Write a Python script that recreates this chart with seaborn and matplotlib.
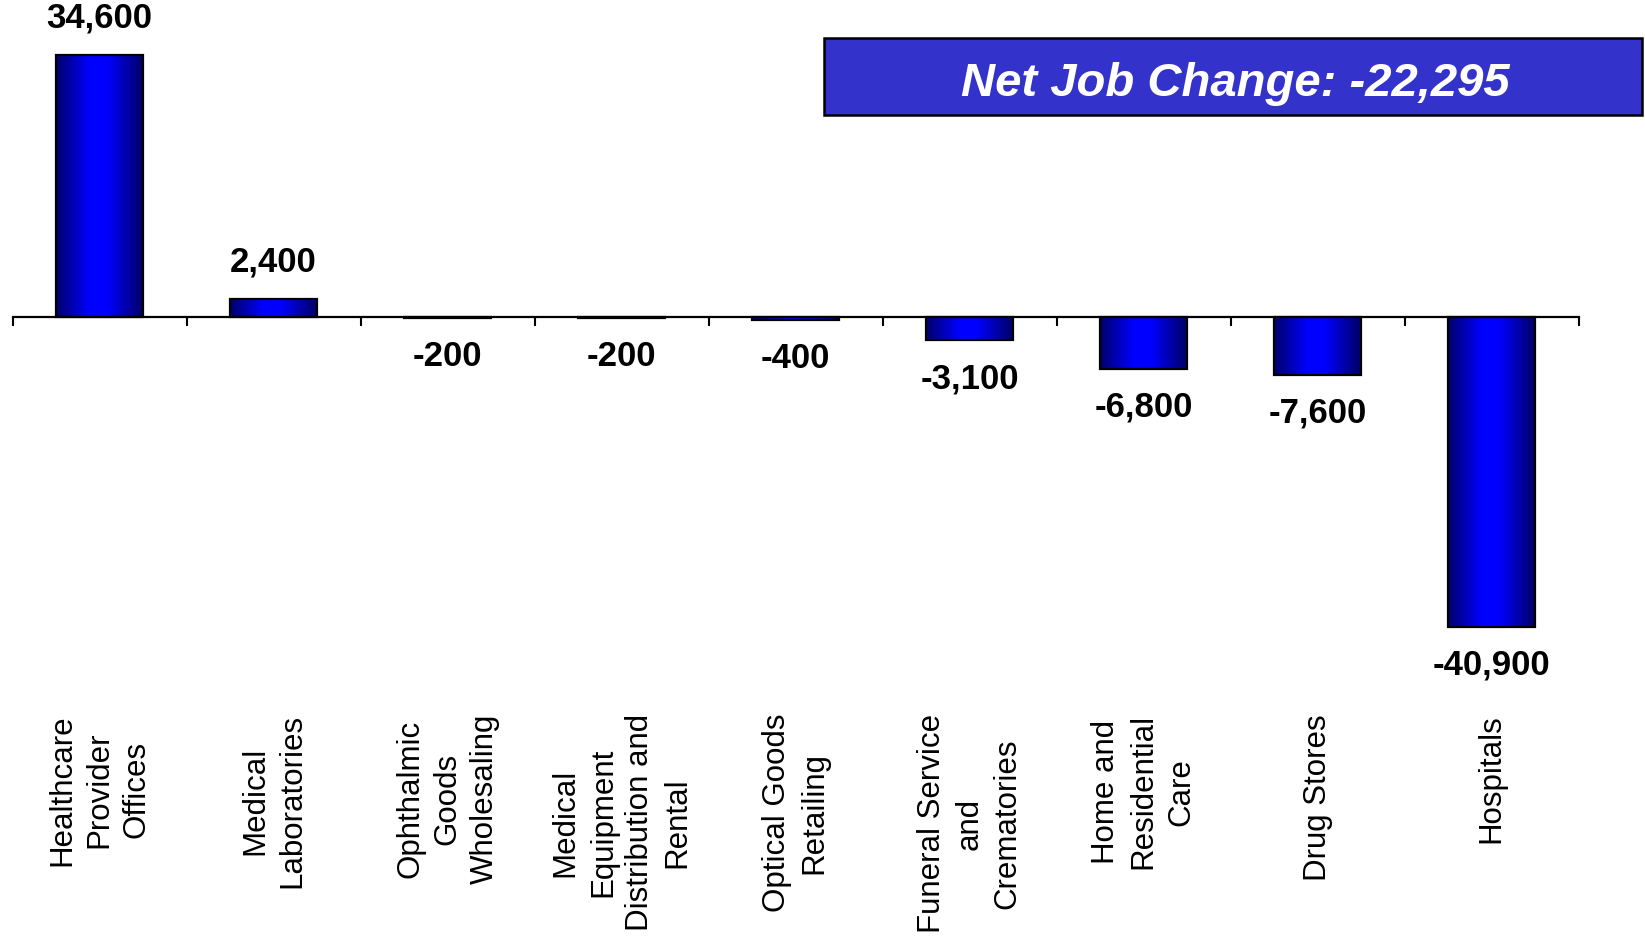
import numpy as np
import matplotlib
matplotlib.use('Agg')
import matplotlib.pyplot as plt
from matplotlib.colors import LinearSegmentedColormap
from matplotlib.patches import Rectangle
import matplotlib.transforms as mtransforms
import seaborn as sns

# Données
categories = ['Healthcare\nProvider\nOffices', 'Medical\nLaboratories',
              'Ophthalmic\nGoods\nWholesaling', 'Medical\nEquipment\nDistribution and\nRental',
              'Optical Goods\nRetailing', 'Funeral Service\nand\nCrematories',
              'Home and\nResidential\nCare', 'Drug Stores', 'Hospitals']
job_change = [34600, 2400, -200, -200, -400, -3100, -6800, -7600, -40900]
net_change_text = 'Net Job Change: -22,295'

sns.set_style('white')
plt.rcParams['font.family'] = ['Liberation Sans', 'DejaVu Sans']
plt.rcParams['text.color'] = 'black'

fig, ax = plt.subplots(figsize=(16.45, 9.37), dpi=100)
ax.set_position([0.00766, 0.317, 0.952, 0.683])

sns.barplot(x=list(range(len(categories))), y=job_change, ax=ax, width=0.5,
            color='#0000ff', edgecolor='black', linewidth=1.6, zorder=3)

# Dégradé horizontal sur chaque barre
cmap = LinearSegmentedColormap.from_list(
    'bleu', [(0, '#00006a'), (0.38, '#0000ff'), (0.58, '#0000ff'), (1, '#000062')])
grad = np.linspace(0, 1, 256).reshape(1, -1)
for p in ax.patches:
    x, y = p.get_xy()
    w, h = p.get_width(), p.get_height()
    ax.imshow(grad, extent=[x, x + w, y, y + h], aspect='auto', cmap=cmap,
              zorder=2, interpolation='bicubic')
    p.set_facecolor('none')

ax.set_aspect('auto')
ax.set_xlim(-0.5, len(categories) - 0.5)
ax.set_ylim(-42480, 41950)

# Axe horizontal à zéro
for s in ['left', 'right', 'top']:
    ax.spines[s].set_visible(False)
ax.spines['bottom'].set_position(('data', 0))
ax.spines['bottom'].set_linewidth(1.6)
ax.spines['bottom'].set_color('black')
ax.spines['bottom'].set_zorder(4)
ax.set_xticks(np.arange(-0.5, len(categories), 1))
ax.set_xticklabels([])
ax.tick_params(axis='x', bottom=True, direction='out', length=6.5, width=1.5, color='black')
ax.set_yticks([])
ax.set_xlabel('')
ax.set_ylabel('')

# Étiquettes des valeurs
for i, v in enumerate(job_change):
    off = 27 if v > 0 else -27
    ax.annotate(f'{v:,}', (i, v), xytext=(0, off), textcoords='offset points',
                ha='center', va='center', fontsize=25, fontweight='bold', color='black')

# Étiquettes des catégories
trans = mtransforms.blended_transform_factory(ax.transData, fig.transFigure)
for i, c in enumerate(categories):
    ax.text(i, 1 - 714 / 937, c, transform=trans, rotation=90, ha='center', va='top',
            multialignment='center', fontsize=22.5, linespacing=1.32, color='black')

# Encadré
fig.patches.append(Rectangle((0.5009, 0.8757), 0.4973, 0.0827, transform=fig.transFigure,
                             facecolor='#3333cc', edgecolor='black', linewidth=1.8))
fig.text(0.7508, 1 - 84 / 937, net_change_text, ha='center', va='center', color='white',
         fontsize=34, fontweight='bold', fontstyle='italic')

plt.savefig('out.png', dpi=100)
